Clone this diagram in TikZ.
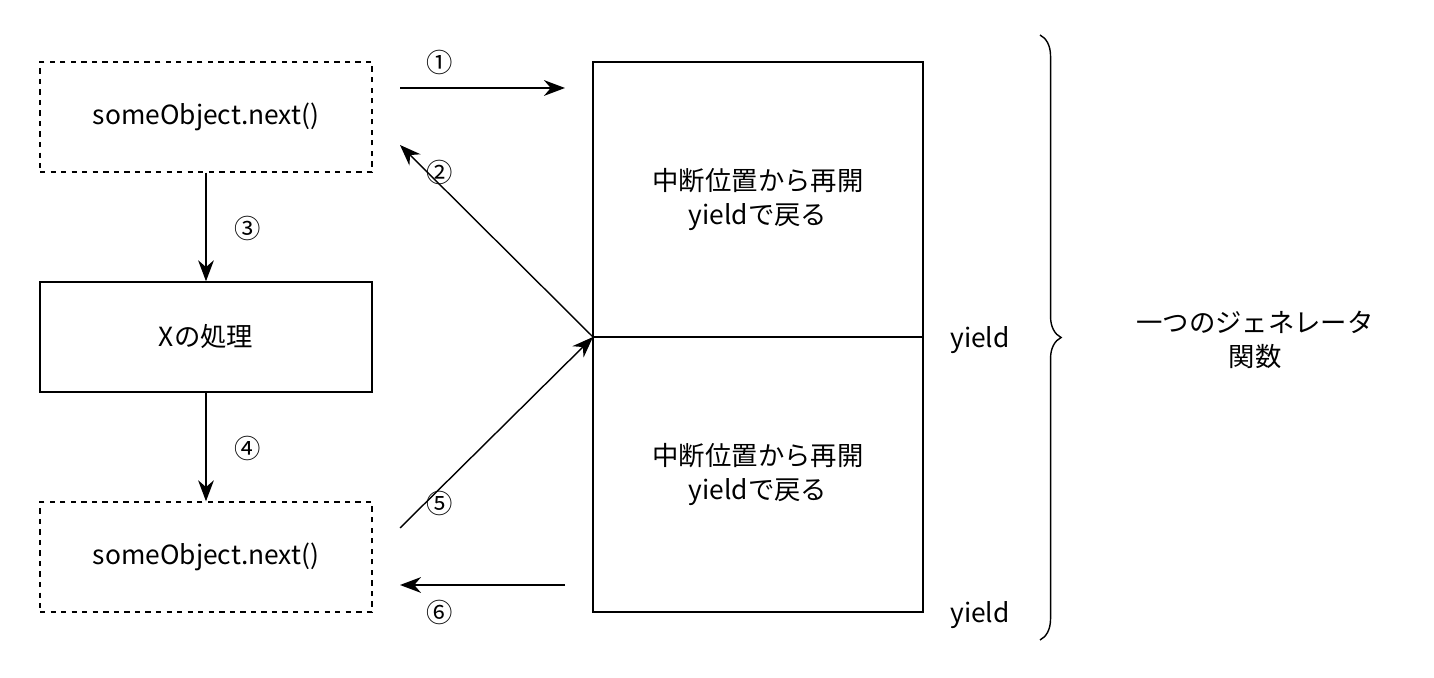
\documentclass[tikz,border=0pt]{standalone}
\usepackage{fontspec}
\setmainfont{Noto Sans CJK JP}
\usetikzlibrary{arrows.meta,positioning,decorations.pathreplacing}
\begin{document}
\begin{tikzpicture}
[x=0.02cm,y=-0.02cm,font=\fontsize{15pt}{19pt}\selectfont,align=center]
\tikzstyle{plain}=[draw,thick,minimum width=6.64cm,minimum height=2.2cm]
\tikzstyle{dashbox}=[plain,dashed]
\tikzstyle{half}=[draw,thick,minimum width=6.6cm,minimum height=5.5cm]
\tikzstyle{arr}=[thick,-{Stealth[length=12pt,width=9pt]}]

\useasboundingbox (0,0) rectangle (1434,678);

\draw node [dashbox] (call1) at (206,117) {someObject.next()};
\draw node [plain] (proc) at (206,337) {Xの処理};
\draw node [dashbox] (call2) at (206,557) {someObject.next()};

\draw node [half] (top) at (758,199.5) {中断位置から再開\\yieldで戻る};
\draw node [half] (bot) at (758,474.5) {中断位置から再開\\yieldで戻る};
\draw node (y1) at (980,340) {yield};
\draw node (y2) at (980,615) {yield};

\coordinate (mid) at (593,337);
\coordinate (a1s) at (400,88);
\coordinate (a1e) at (565,88);
\coordinate (a2e) at (400,145);
\coordinate (a5s) at (400,528);
\coordinate (a6s) at (565,585);
\coordinate (a6e) at (400,585);

\draw [arr] (a1s) -- (a1e);
\draw [arr] (mid) -- (a2e);
\draw [arr] (call1) -- (proc);
\draw [arr] (proc) -- (call2);
\draw [arr] (a5s) -- (mid);
\draw [arr] (a6s) -- (a6e);

\draw node (n1) at (440,62) {①};
\draw node (n2) at (440,172) {②};
\draw node (n3) at (248,228) {③};
\draw node (n4) at (248,448) {④};
\draw node (n5) at (440,503) {⑤};
\draw node (n6) at (440,612) {⑥};

\draw [thick,decorate,decoration={brace,amplitude=12pt}]
  (1040,35) -- (1040,640);
\draw node (gen) at (1255,340) {一つのジェネレータ\\関数};
\end{tikzpicture}
\end{document}
